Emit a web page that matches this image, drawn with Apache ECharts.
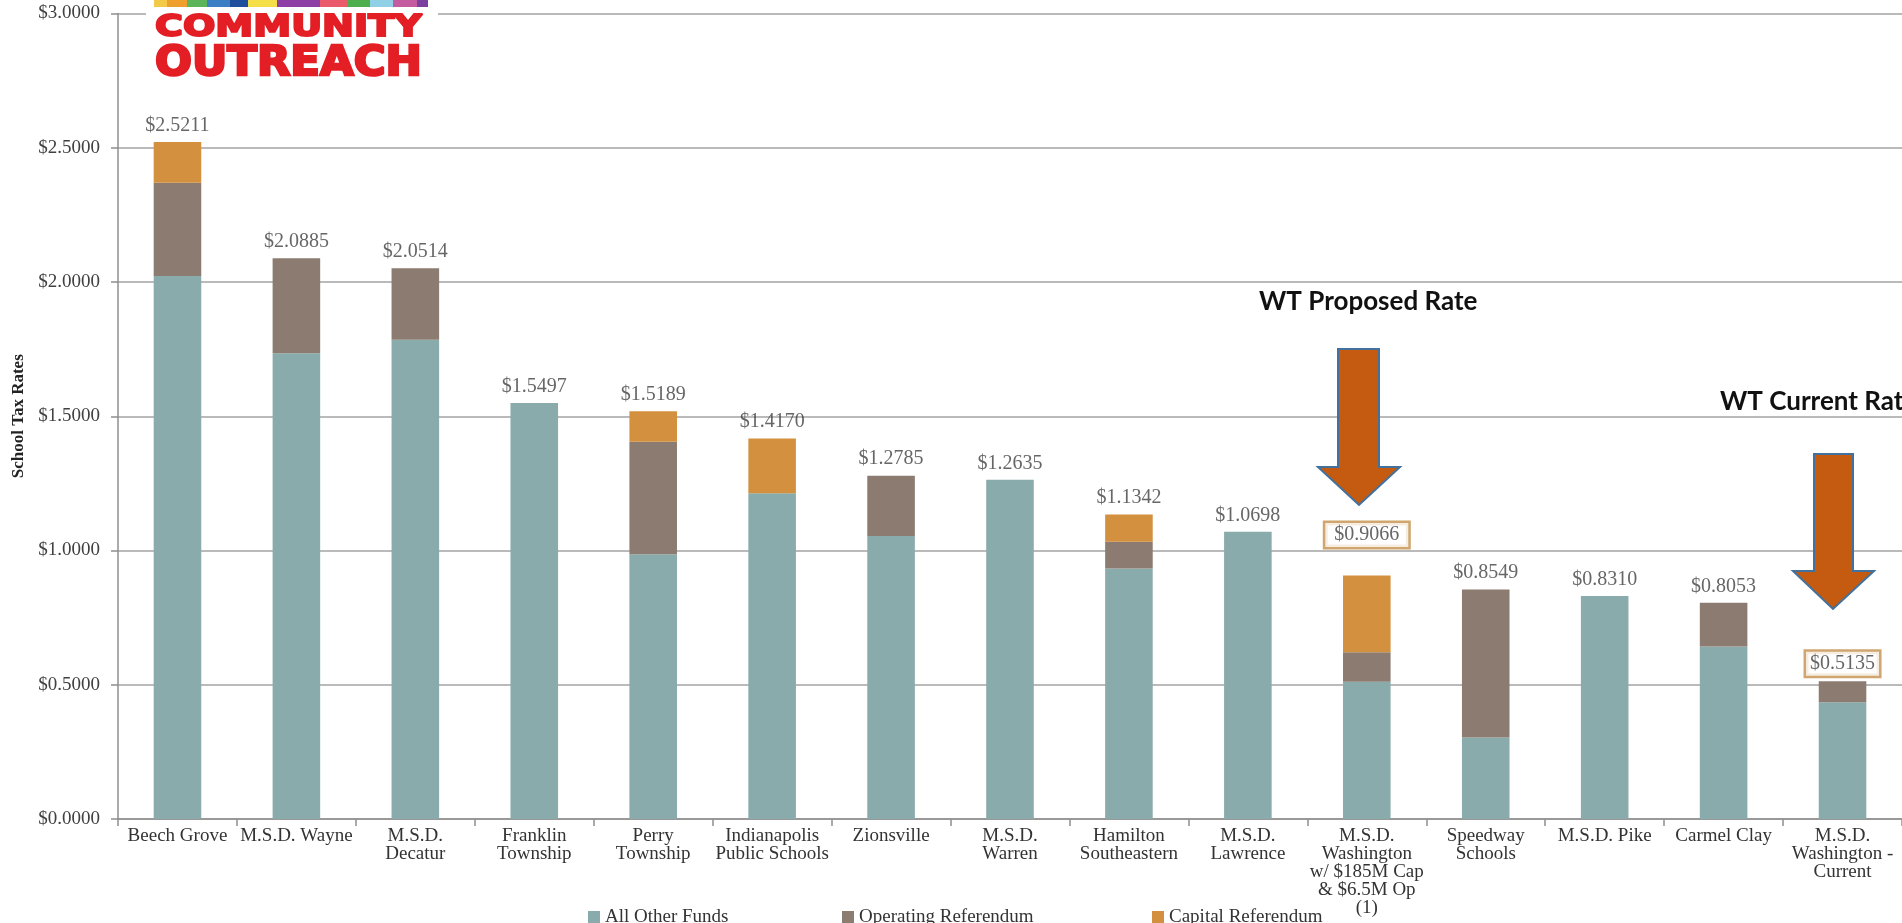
<!DOCTYPE html>
<html><head><meta charset="utf-8">
<script src="https://cdn.jsdelivr.net/npm/echarts@6/dist/echarts.min.js"></script>
<style>html,body{margin:0;padding:0;background:#fff}#c{width:1902px;height:923px}</style>
</head><body><div id="c"></div>
<script>
const categories = [
  'Beech Grove', 'M.S.D. Wayne', 'M.S.D.\nDecatur', 'Franklin\nTownship', 'Perry\nTownship',
  'Indianapolis\nPublic Schools', 'Zionsville', 'M.S.D.\nWarren', 'Hamilton\nSoutheastern', 'M.S.D.\nLawrence',
  'M.S.D.\nWashington\nw/ $185M Cap\n& $6.5M Op\n(1)', 'Speedway\nSchools', 'M.S.D. Pike', 'Carmel Clay', 'M.S.D.\nWashington -\nCurrent'
];
const allOtherFunds       = [2.0220, 1.7350, 1.7850, 1.5497, 0.9860, 1.2130, 1.0540, 1.2635, 0.9330, 1.0698, 0.5110, 0.3040, 0.8310, 0.6420, 0.4345];
const operatingReferendum = [0.3480, 0.3535, 0.2664, 0,      0.4190, 0,      0.2245, 0,      0.1000, 0,      0.1100, 0.5509, 0,      0.1633, 0.0790];
const capitalReferendum   = [0.1511, 0,      0,      0,      0.1139, 0.2040, 0,      0,      0.1012, 0,      0.2856, 0,      0,      0,      0];
const totalLabels         = [2.5211, 2.0885, 2.0514, 1.5497, 1.5189, 1.4170, 1.2785, 1.2635, 1.1342, 1.0698, 0.9066, 0.8549, 0.8310, 0.8053, 0.5135];
const seriesNames = ['All Other Funds', 'Operating Referendum', 'Capital Referendum'];
const highlighted = { 10: { distance: 28, padding: [2, 9] }, 14: { distance: 5, padding: [2, 4] } };

const SERIF = '"Liberation Serif", "DejaVu Serif", serif';
const colors = ['#89abab', '#8c7b70', '#d3913f'];
const legendLeft = [588, 842, 1152];

const totalData = totalLabels.map((v, i) => {
  const h = highlighted[i];
  if (!h) return v;
  return { value: v, label: { borderColor: '#c4904a', borderWidth: 2.5, padding: h.padding, backgroundColor: '#fff', distance: h.distance } };
});

const chart = echarts.init(document.getElementById('c'), null, { renderer: 'canvas' });

const strip = [
  [154, 13, '#f3c94a'], [167, 20, '#ef9f2e'], [187, 20, '#5cb45a'], [207, 23, '#3b80c4'], [230, 18, '#1f4f9c'],
  [248, 29, '#f4df48'], [277, 43, '#8e3fa6'], [320, 27, '#ea5a6a'], [347, 23, '#4cae4c'], [370, 23, '#8fd0e6'],
  [393, 24, '#c45aa0'], [417, 11, '#7b3fa0']
];

const graphicEls = [
  { type: 'rect', shape: { x: 146, y: 0, width: 292, height: 86 }, style: { fill: '#fff' }, z: 100 },
  { type: 'text', x: 155, y: 28, scaleX: 1.27, z: 101,
    style: { text: 'COMMUNITY', font: 'bold 30px "DejaVu Sans"', fill: '#e31e24', stroke: '#e31e24', lineWidth: 2, verticalAlign: 'middle', align: 'left' } },
  { type: 'text', x: 155, y: 64, scaleX: 1.06, z: 101,
    style: { text: 'OUTREACH', font: 'bold 41px "DejaVu Sans"', fill: '#e31e24', stroke: '#e31e24', lineWidth: 2.5, verticalAlign: 'middle', align: 'left' } },
  ...strip.map(s => ({ type: 'rect', shape: { x: s[0], y: 0, width: s[1], height: 7 }, style: { fill: s[2] }, z: 102 })),
  { type: 'text', x: 1259, y: 302, z: 101,
    style: { text: 'WT Proposed Rate', font: 'bold 26px Lato, "Open Sans", sans-serif', fill: '#111', verticalAlign: 'middle', align: 'left' } },
  { type: 'text', x: 1720, y: 402, z: 101,
    style: { text: 'WT Current Rate', font: 'bold 26px Lato, "Open Sans", sans-serif', fill: '#111', verticalAlign: 'middle', align: 'left' } },
  { type: 'polygon', z: 101,
    shape: { points: [[1338, 349], [1379, 349], [1379, 467], [1400, 467], [1359, 505], [1318, 467], [1338, 467]] },
    style: { fill: '#c55a11', stroke: '#41719c', lineWidth: 2 } },
  { type: 'polygon', z: 101,
    shape: { points: [[1814, 454], [1853, 454], [1853, 571], [1874, 571], [1833, 609], [1793, 571], [1814, 571]] },
    style: { fill: '#c55a11', stroke: '#41719c', lineWidth: 2 } }
];

const barSeries = [allOtherFunds, operatingReferendum, capitalReferendum].map((arr, k) => ({
  name: seriesNames[k], type: 'bar', stack: 'total', data: arr, barWidth: '40%',
  itemStyle: { color: colors[k] }, emphasis: { disabled: true }
}));

const legends = seriesNames.map((n, k) => ({
  data: [{ name: n, icon: 'rect' }],
  left: legendLeft[k], top: 907, itemWidth: 12, itemHeight: 12, padding: 0,
  textStyle: { fontFamily: SERIF, fontSize: 19, color: '#333', lineHeight: 20 },
  selectedMode: false
}));

chart.setOption({
  animation: false,
  backgroundColor: '#fff',
  textStyle: { fontFamily: SERIF },
  grid: { left: 118, right: 0, top: 13.5, bottom: 104, containLabel: false, outerBoundsMode: 'none' },
  legend: legends,
  xAxis: {
    type: 'category', data: categories,
    axisLine: { lineStyle: { color: '#8f8f8f', width: 1.5 } },
    axisTick: { show: true, length: 7, lineStyle: { color: '#8f8f8f', width: 1.5 } },
    axisLabel: { interval: 0, margin: 8, fontFamily: SERIF, fontSize: 19, lineHeight: 18, color: '#333' }
  },
  yAxis: {
    type: 'value', min: 0, max: 3, interval: 0.5,
    name: 'School Tax Rates', nameLocation: 'middle', nameGap: 91, nameRotate: 90,
    nameTextStyle: { fontFamily: SERIF, fontWeight: 'bold', fontSize: 17, color: '#222' },
    axisLine: { show: true, lineStyle: { color: '#8f8f8f', width: 1.5 } },
    axisTick: { show: true, length: 7, lineStyle: { color: '#8f8f8f', width: 1.5 } },
    splitLine: { lineStyle: { color: '#a3a3a3', width: 1.5 } },
    axisLabel: { margin: 18, fontFamily: SERIF, fontSize: 19, color: '#404040', formatter: v => '$' + v.toFixed(4) }
  },
  series: [
    ...barSeries,
    {
      name: 'Total', type: 'scatter', data: totalData, symbolSize: 1,
      itemStyle: { color: 'rgba(0,0,0,0)' }, z: 5,
      label: { show: true, position: 'top', distance: 6, fontFamily: SERIF, fontSize: 20, color: '#404040',
        formatter: p => '$' + Number(p.value).toFixed(4) },
      emphasis: { disabled: true }, silent: true
    }
  ],
  graphic: { elements: graphicEls }
});
</script></body></html>
